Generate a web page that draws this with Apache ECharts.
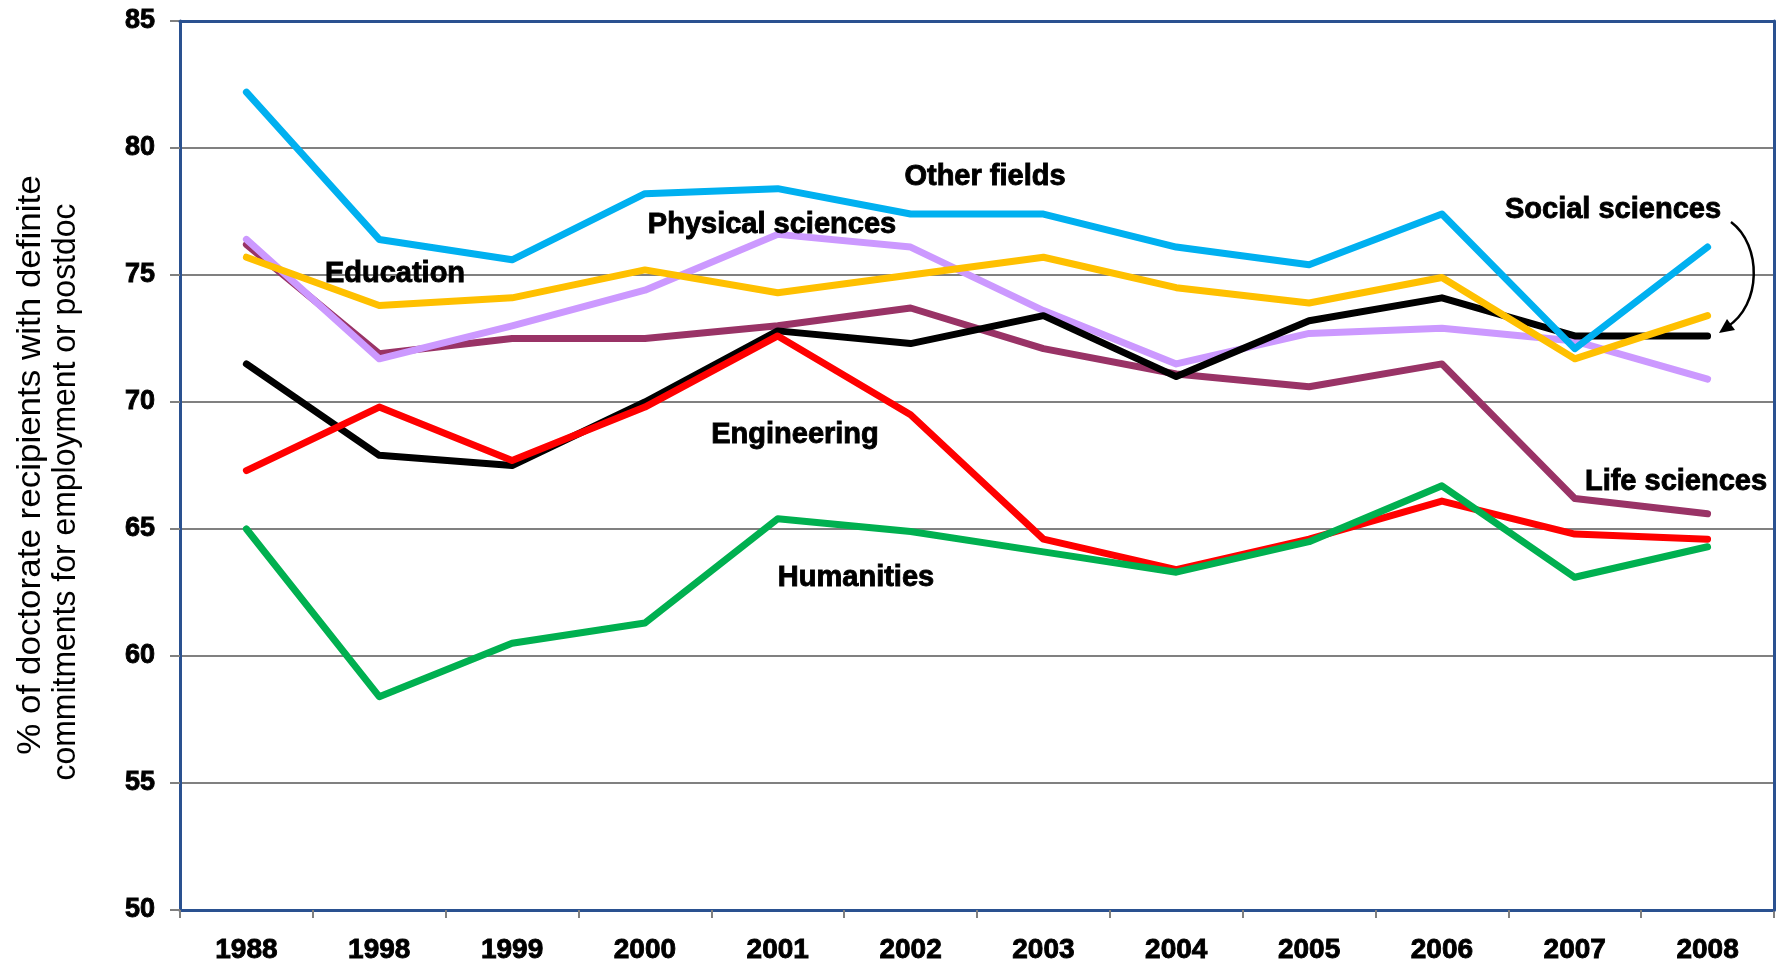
<!DOCTYPE html>
<html>
<head>
<meta charset="utf-8">
<script src="https://cdn.jsdelivr.net/npm/echarts@6/dist/echarts.min.js"></script>
<style>
html,body{margin:0;padding:0;background:#fff;}
#chart{width:1783px;height:968px;}
</style>
</head>
<body>
<div id="chart"></div>
<script>
var years = ['1988','1998','1999','2000','2001','2002','2003','2004','2005','2006','2007','2008'];
var yTicks = [50,55,60,65,70,75,80,85];

var lifeSciences     = [76.2,71.9,72.5,72.5,73.0,73.7,72.1,71.1,70.6,71.5,66.2,65.6];
var physicalSciences = [76.4,71.7,73.0,74.4,76.6,76.1,73.6,71.5,72.7,72.9,72.4,70.9];
var socialSciences   = [71.5,67.9,67.5,70.0,72.8,72.3,73.4,71.0,73.2,74.1,72.6,72.6];
var engineering      = [67.3,69.8,67.7,69.8,72.6,69.5,64.6,63.4,64.6,66.1,64.8,64.6];
var humanities       = [65.0,58.4,60.5,61.3,65.4,64.9,64.1,63.3,64.5,66.7,63.1,64.3];
var education        = [75.7,73.8,74.1,75.2,74.3,75.0,75.7,74.5,73.9,74.9,71.7,73.4];
var otherFields      = [82.2,76.4,75.6,78.2,78.4,77.4,77.4,76.1,75.4,77.4,72.1,76.1];

var seriesNames  = ['Life sciences','Physical sciences','Social sciences','Engineering','Humanities','Education','Other fields'];
var seriesData   = [lifeSciences,physicalSciences,socialSciences,engineering,humanities,education,otherFields];
var seriesColors = ['#993366','#CC99FF','#000000','#FF0000','#00B050','#FFC000','#00B0F0'];

var FONT = '"Liberation Sans", Arial, sans-serif';
var axisBlue = '#2A5190';
var gray = '#808080';

var chart = echarts.init(document.getElementById('chart'), null, {renderer:'canvas'});

var series = seriesNames.map(function(n,i){
  return {
    name:n, type:'line', data:seriesData[i], showSymbol:false, symbol:'none',
    lineStyle:{color:seriesColors[i], width:7, cap:'round', join:'round'},
    itemStyle:{color:seriesColors[i]}, z:2+i, animation:false
  };
});

function label(text, x, y, size){
  return {type:'text', x:x, y:y, z:100,
    style:{text:text, font:'bold '+(size||29)+'px '+FONT, fill:'#000',
      stroke:'#000', lineWidth:0.9,
      align:'center', verticalAlign:'middle', textAlign:'center', textVerticalAlign:'middle'}};
}

var option = {
  animation:false,
  backgroundColor:'#fff',
  grid:{left:180, right:9, top:21, bottom:58, containLabel:false},
  xAxis:[{
    type:'category', data:years, boundaryGap:true,
    axisLine:{show:true, lineStyle:{color:axisBlue, width:3}},
    axisTick:{show:true, length:8, lineStyle:{color:gray, width:2}},
    axisLabel:{color:'#000', fontSize:28, fontWeight:'bold', fontFamily:FONT, margin:26,
      textBorderColor:'#000', textBorderWidth:0.9},
    splitLine:{show:false}
  },{
    type:'category', data:years, position:'top', boundaryGap:true,
    axisLine:{show:true, lineStyle:{color:axisBlue, width:3}},
    axisTick:{show:false}, axisLabel:{show:false}, splitLine:{show:false}, z:10
  }],
  yAxis:[{
    type:'value', min:yTicks[0], max:yTicks[yTicks.length-1], interval:5,
    axisLine:{show:true, lineStyle:{color:axisBlue, width:3}},
    axisTick:{show:true, length:10, lineStyle:{color:gray, width:2}},
    axisLabel:{color:'#000', fontSize:27, fontWeight:'bold', fontFamily:FONT, margin:25,
      textBorderColor:'#000', textBorderWidth:0.9},
    splitLine:{show:true, showMinLine:false, showMaxLine:false, lineStyle:{color:gray, width:2}}
  },{
    type:'value', min:yTicks[0], max:yTicks[yTicks.length-1], interval:5, position:'right',
    axisLine:{show:true, lineStyle:{color:axisBlue, width:3}},
    axisTick:{show:false}, axisLabel:{show:false}, splitLine:{show:false}, z:10
  }],
  series:series,
  graphic:[
    {type:'text', x:31, y:465, rotation:Math.PI/2, scaleX:1.06, z:100,
      style:{text:'% of doctorate recipients with definite', font:'33px '+FONT, fill:'#000',
        align:'center', verticalAlign:'middle', textAlign:'center', textVerticalAlign:'middle'}},
    {type:'text', x:66, y:492, rotation:Math.PI/2, scaleX:0.968, z:100,
      style:{text:'commitments for employment or postdoc', font:'33px '+FONT, fill:'#000',
        align:'center', verticalAlign:'middle', textAlign:'center', textVerticalAlign:'middle'}},
    label('Other fields', 985, 177),
    label('Physical sciences', 772, 225),
    label('Education', 395, 274),
    label('Engineering', 795, 435),
    label('Humanities', 856, 578),
    label('Social sciences', 1613, 210),
    label('Life sciences', 1676, 482),
    {type:'bezierCurve', z:100,
      shape:{x1:1731, y1:222, cpx1:1762, cpy1:245, cpx2:1762, cpy2:305, x2:1727, y2:327},
      style:{stroke:'#000', lineWidth:2.5, fill:null}},
    {type:'polygon', z:100,
      shape:{points:[[1719,333],[1735,330],[1727,319]]},
      style:{fill:'#000'}}
  ]
};
chart.setOption(option);
</script>
</body>
</html>
